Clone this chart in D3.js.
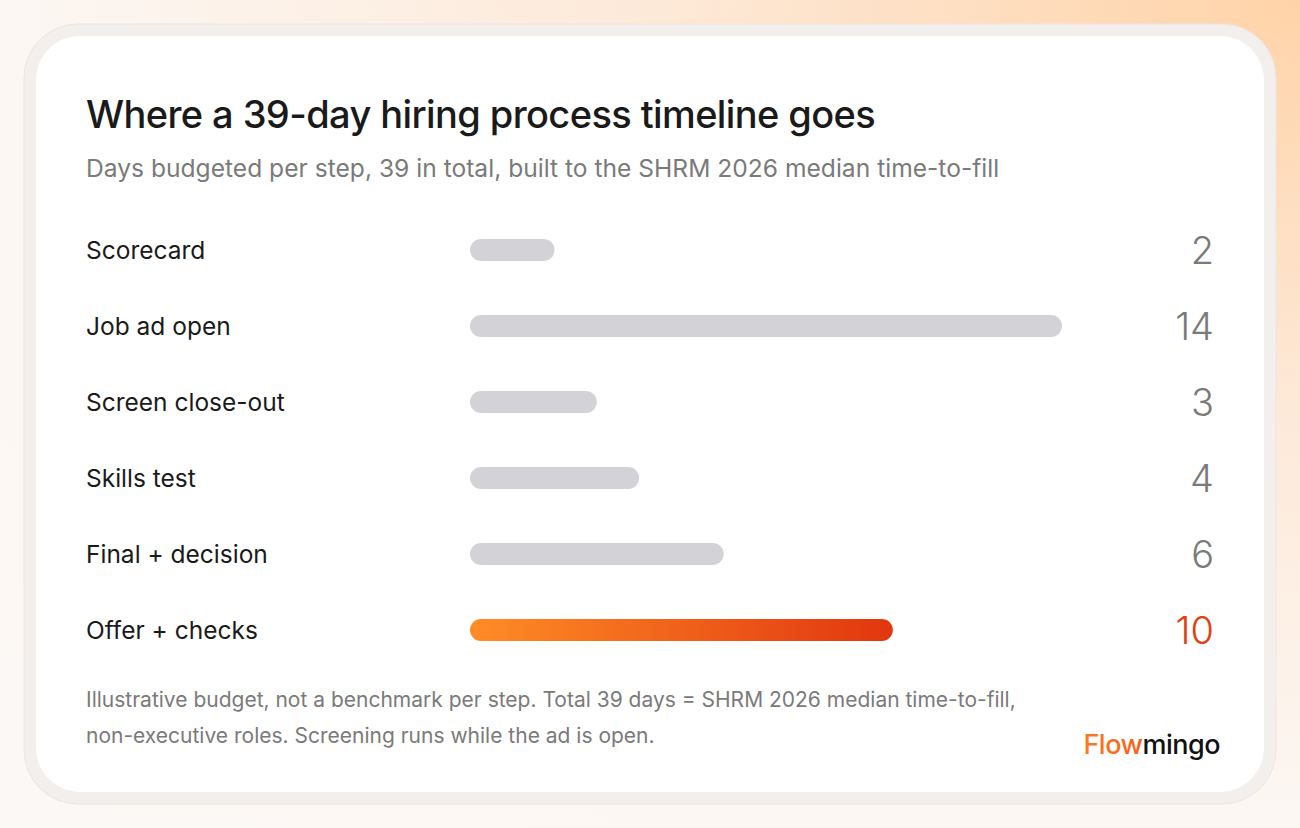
<!DOCTYPE html>
<html><head><meta charset="utf-8">
<script src="https://cdn.jsdelivr.net/npm/d3@7"></script>
<style>
body{margin:0;width:1300px;height:828px;overflow:hidden;font-family:Inter,"Noto Sans",sans-serif;
background:radial-gradient(ellipse at 100% 0%,#ffd3a8 0%,#fde9d8 35%,#fcf7f3 70%,#fcf8f5 100%);}
</style></head><body>
<svg id="chart" width="1300" height="828"></svg>
<script>
// Step names and days budgeted
var steps = ["Scorecard", "Job ad open", "Screen close-out", "Skills test", "Final + decision", "Offer + checks"];
var days = [2, 14, 3, 4, 6, 10];
var highlight = "Offer + checks";

var svg = d3.select("#chart");
var defs = svg.append("defs");
var g = defs.append("linearGradient").attr("id", "hot");
g.append("stop").attr("offset", "0%").attr("stop-color", "#ff8c26");
g.append("stop").attr("offset", "100%").attr("stop-color", "#e1360f");
var lg = defs.append("linearGradient").attr("id", "logo");
lg.append("stop").attr("offset", "0%").attr("stop-color", "#ff7a1f");
lg.append("stop").attr("offset", "100%").attr("stop-color", "#e83a14");

// card
svg.append("rect").attr("x", 24).attr("y", 24).attr("width", 1252).attr("height", 780)
  .attr("rx", 54).attr("fill", "#f3efec").attr("stroke", "#ece6e1");
svg.append("rect").attr("x", 36).attr("y", 36).attr("width", 1228).attr("height", 756)
  .attr("rx", 44).attr("fill", "#ffffff");

svg.append("text").attr("x", 86).attr("y", 128).attr("font-size", 38).attr("font-weight", 500)
  .attr("fill", "#1a1a1a").attr("letter-spacing", -0.6).text("Where a 39-day hiring process timeline goes");
svg.append("text").attr("x", 86).attr("y", 177).attr("font-size", 24.6).attr("fill", "#7a7a7a")
  .text("Days budgeted per step, 39 in total, built to the SHRM 2026 median time-to-fill");

var x = d3.scaleLinear().domain([0, 14]).range([470, 1062]);
var y = d3.scalePoint().domain(steps).range([250, 630]);

var rows = svg.selectAll("g.row").data(steps).enter().append("g").attr("class", "row");
rows.append("text").attr("x", 86).attr("y", d => y(d)).attr("dy", "0.35em")
  .attr("font-size", 24.5).attr("fill", "#1a1a1a").text(d => d);
rows.append("rect").attr("x", x(0)).attr("y", d => y(d) - 11).attr("height", 22).attr("rx", 11)
  .attr("width", (d, i) => x(days[i]) - x(0))
  .attr("fill", d => d === highlight ? "url(#hot)" : "#d3d2d7");
rows.append("text").attr("x", 1214).attr("y", d => y(d)).attr("dy", "0.36em").attr("text-anchor", "end")
  .attr("font-size", 38).attr("font-weight", 300)
  .attr("fill", d => d === highlight ? "#e2400f" : "#7a7a7a").text((d, i) => days[i]);

svg.append("text").attr("x", 86).attr("y", 707).attr("font-size", 21).attr("fill", "#7a7a7a")
  .text("Illustrative budget, not a benchmark per step. Total 39 days = SHRM 2026 median time-to-fill,");
svg.append("text").attr("x", 86).attr("y", 743).attr("font-size", 21).attr("fill", "#7a7a7a")
  .text("non-executive roles. Screening runs while the ad is open.");

var logo = svg.append("text").attr("x", 1220).attr("y", 754).attr("text-anchor", "end")
  .attr("font-size", 27).attr("font-weight", 500).attr("letter-spacing", -0.5);
logo.append("tspan").attr("fill", "url(#logo)").text("Flow");
logo.append("tspan").attr("fill", "#111").text("mingo");
</script>
</body></html>
